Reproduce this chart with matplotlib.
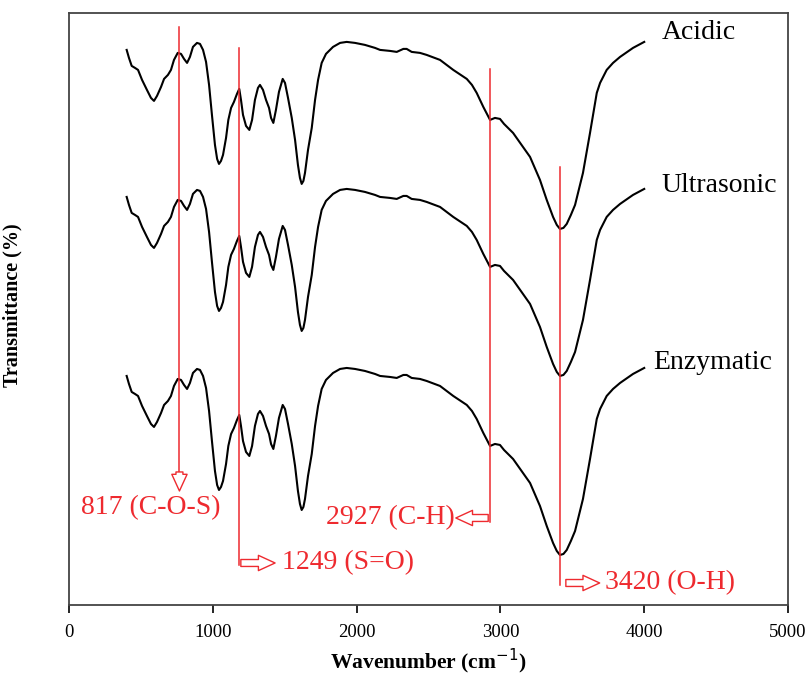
import numpy as np
import matplotlib
matplotlib.use("Agg")
import matplotlib.pyplot as plt

plt.rcParams['font.family'] = ['Liberation Serif', 'DejaVu Serif']

# FTIR spectrum, wavenumber in cm-1, transmittance in a.u.
wavenumber = [401, 417, 436, 459, 480, 508, 542, 570, 591, 612, 640, 661, 688, 709, 730,
              756, 779, 800, 821, 841, 862, 890, 911, 932, 953, 974, 994, 1015, 1030, 1043,
              1057, 1071, 1092, 1108, 1127, 1147, 1168, 1184, 1196, 1210, 1231, 1254, 1273, 1293,
              1314, 1328, 1349, 1370, 1391, 1405, 1421, 1439, 1460, 1486, 1502, 1523, 1549,
              1572, 1592, 1606, 1618, 1630, 1641, 1662, 1688, 1711, 1732, 1757, 1787, 1836, 1885, 1931,
              1989, 2058, 2128, 2163, 2232, 2279, 2325, 2348, 2383, 2441, 2487, 2580, 2672,
              2766, 2802, 2835, 2881, 2928, 2962, 2997, 3025, 3088, 3206, 3275, 3322, 3366,
              3392, 3414, 3438, 3461, 3490, 3519, 3574, 3623, 3670, 3693, 3739, 3783, 3832, 3922, 4000]
transmittance = [555, 547, 539, 537, 535, 525, 515, 507, 504, 509, 518, 526, 530, 535, 545,
                 552, 551, 546, 542, 548, 558, 562, 561, 555, 543, 520, 490, 460, 446, 441,
                 444, 450, 467, 485, 497, 503, 511, 516, 505, 490, 479, 475, 485, 505,
                 517, 520, 515, 505, 497, 487, 482, 495, 513, 526, 522, 507, 487,
                 465, 440, 427, 421, 424, 432, 455, 477, 505, 525, 542, 551, 558, 562, 563,
                 562, 560, 557, 555, 554, 553, 556, 556, 553, 552, 550, 545, 535,
                 526, 520, 512, 498, 485, 487, 486, 481, 472, 448, 425, 405, 388,
                 380, 376, 377, 381, 390, 400, 432, 472, 512, 522, 535, 542, 548, 557, 563]

samples = ['Acidic', 'Ultrasonic', 'Enzymatic']
offsets = [0, -147, -326]

# marked bands: (line position, label)
bands = [768, 1182, 2925, 3415]
band_labels = ['817 (C-O-S)', '1249 (S=O)', '2927 (C-H)', '3420 (O-H)']

red = '#ee2a2f'

fig = plt.figure(figsize=(8.07, 6.79), dpi=100)
ax = fig.add_axes([0.0855, 0.109, 0.891, 0.872])

wn = np.array(wavenumber)
tr = np.array(transmittance)
label_pos = [(4120, 572), (4120, 419), (4060, 242)]
for name, off, (lx, ly) in zip(samples, offsets, label_pos):
    ax.plot(wn, tr + off, color='black', lw=1.5, solid_joinstyle='round')
    ax.text(lx, ly, name, fontsize=20, va='center', ha='left')

# red marker lines
line_spans = [(132, 578), (40, 557), (83, 536), (20, 438)]
for x, (y0, y1) in zip(bands, line_spans):
    ax.plot([x, x], [y0, y1], color=red, lw=1.1)

arrow_kw = dict(arrowstyle='simple,head_length=1.2,head_width=1.1,tail_width=0.5',
                fc='white', ec=red, lw=1, shrinkA=0, shrinkB=0, mutation_scale=10)
# 817: arrow down
ax.annotate('', xy=(bands[0], 114), xytext=(bands[0], 133), arrowprops=arrow_kw)
ax.text(570, 97, band_labels[0], color=red, fontsize=20, ha='center', va='center')
# 1249: arrow right
ax.annotate('', xy=(1433, 42), xytext=(1195, 42), arrowprops=arrow_kw)
ax.text(1480, 42, band_labels[1], color=red, fontsize=20, ha='left', va='center')
# 2927: arrow left
ax.annotate('', xy=(2690, 87), xytext=(2915, 87), arrowprops=arrow_kw)
ax.text(2685, 87, band_labels[2], color=red, fontsize=20, ha='right', va='center')
# 3420: arrow right
ax.annotate('', xy=(3690, 22), xytext=(3455, 22), arrowprops=arrow_kw)
ax.text(3725, 22, band_labels[3], color=red, fontsize=20, ha='left', va='center')

ax.set_xlim(0, 5000)
ax.set_ylim(0, 592)
ax.set_xticks([0, 1000, 2000, 3000, 4000, 5000])
ax.set_yticks([])
ax.tick_params(axis='x', direction='out', length=6, width=1.2, labelsize=13.5, pad=8)
for s in ax.spines.values():
    s.set_color('#444444')
    s.set_linewidth(1.3)

ax.set_xlabel('Wavenumber (cm$^{-1}$)', fontsize=15.5, fontweight='bold', labelpad=4)
ax.set_ylabel('Transmittance (%)', fontsize=14.5, fontweight='bold')
ax.yaxis.set_label_coords(-0.065, 0.507)

fig.savefig('out.png', dpi=100)
